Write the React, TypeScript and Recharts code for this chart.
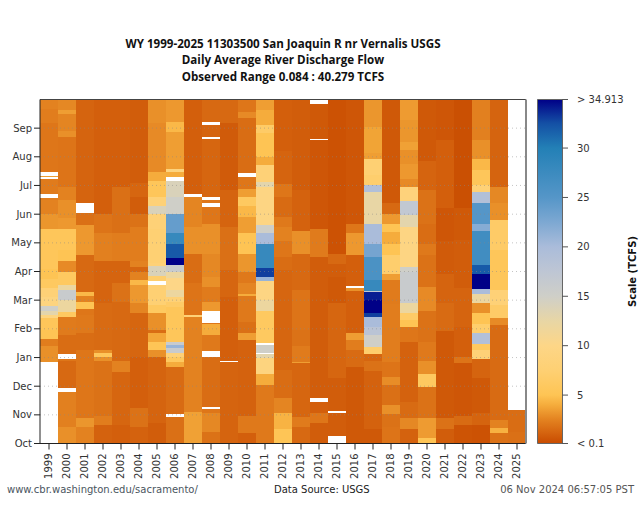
import React from 'react'
import { BarChart, Bar, Cell, XAxis, YAxis, ReferenceLine } from 'recharts'

const years = [
  1999, 2000, 2001, 2002, 2003, 2004, 2005, 2006, 2007, 2008, 2009, 2010, 2011, 2012,
  2013, 2014, 2015, 2016, 2017, 2018, 2019, 2020, 2021, 2022, 2023, 2024, 2025,
]
const months = ['Oct', 'Nov', 'Dec', 'Jan', 'Feb', 'Mar', 'Apr', 'May', 'Jun', 'Jul', 'Aug', 'Sep']
const monthDays = [0, 30.4, 60.8, 91.2, 121.7, 152.1, 182.5, 212.9, 243.3, 273.8, 304.2, 334.6]

// each band is [last day of water year, flow in TCFS], null = no record
type Band = [number, number | null]
const wy1999: Band[] = [[87,null],[103,3],[111,2.3],[120,5],[133,5.5],[136,9],[141,13],[146,15],[155,9],[165,8],[175,6],[185,5],[228,5.5],[244,3.2],[258,2.5],[260,2.3],[265,null],[281,2.2],[283,null],[284,3.5],[288,null],[310,2],[340,2],[355,2.3],[365,2.5]]
const wy2000: Band[] = [[18,3],[55,2.4],[59,null],[88,1.4],[90,2],[95,null],[115,1.6],[134,2.2],[140,6],[152,12],[163,16],[168,12],[182,6],[194,2.8],[205,5],[228,5.5],[239,3.3],[258,3],[272,2.5],[325,1.9],[332,3],[350,2.6],[354,3.5],[365,2.7]]
const wy2001: Band[] = [[18,2.5],[27,3.2],[99,2],[117,1.6],[136,2.1],[143,2],[150,5],[156,2.5],[161,4.5],[200,1.4],[232,3.3],[245,1.7],[255,null],[365,1.2]]
const wy2002: Band[] = [[20,1.1],[29,2.3],[88,1.8],[92,3],[96,5.5],[99,3],[149,1.5],[194,1.2],[223,2.4],[244,1.9],[365,1]]
const wy2003: Band[] = [[20,1],[38,1.3],[76,1.3],[88,2.5],[150,1.4],[170,1.8],[194,1.2],[223,2.3],[272,1.7],[365,1]]
const wy2004: Band[] = [[17,1.1],[38,1.8],[92,1],[138,1.3],[149,2.6],[168,3.3],[174,4.5],[182,2.5],[187,1.3],[194,2.5],[230,2.3],[244,1.8],[262,0.9],[276,1.3],[365,0.9]]
const wy2005: Band[] = [[22,0.9],[92,1.2],[99,3],[108,5.2],[117,3.8],[120,1.6],[138,3],[147,6],[168,7.5],[172,null],[178,7],[188,14],[192,8],[228,7.5],[244,8],[252,14],[262,8],[278,5.5],[288,4],[340,2.8],[365,3]]
const wy2006: Band[] = [[28,1.7],[31,null],[81,1.5],[87,4],[92,6],[96,8],[101,16],[104,21],[108,16],[145,5.5],[150,6.5],[155,8],[163,12],[176,10],[182,12],[189,16],[197,36],[212,32],[223,28],[244,24],[262,15],[278,14],[283,null],[288,4],[291,9],[330,3.5],[341,4.5],[365,3.3]]
const wy2007: Band[] = [[33,3.6],[134,2.5],[136,8],[170,1.9],[201,1.6],[230,3],[262,2.6],[265,null],[365,1]]
const wy2008: Band[] = [[12,1.8],[32,2.7],[37,2],[38.5,null],[92,1.6],[98,null],[115,2.1],[127,4],[128,2],[141,null],[150,3.3],[166,2.2],[177,3],[201,2.7],[233,3],[251,2],[255,null],[258,2],[262,null],[323,1.3],[325,null],[338,1.2],[341,null],[365,1.4]]
const wy2009: Band[] = [[87,1.2],[88,null],[155,1],[184,1.3],[230,1.7],[269,1.2],[340,0.8],[365,1.4]]
const wy2010: Band[] = [[11,1],[29,2.1],[110,1.1],[117,3.5],[129,1.7],[156,2.1],[159,4],[170,2.6],[182,2.1],[201,3.2],[223,5],[240,3.5],[252,4.5],[262,6],[270,3.5],[283,2],[287,null],[345,1.6],[352,2.8],[365,2]]
const wy2011: Band[] = [[62,2.1],[74,4],[91,9],[95,13],[96,null],[104,15],[107,null],[141,6],[152,12],[172,9.5],[177,21],[186,33],[212,28],[223,20],[232,15],[272,9.5],[277,13],[295,8],[304,4],[329,5],[338,6.5],[354,4],[365,3.5]]
const wy2012: Band[] = [[15,5.2],[32,4.3],[48,2.6],[78,1.6],[184,1.3],[198,1.6],[215,2],[230,2.5],[240,2.1],[262,1.5],[275,2],[310,1.2],[365,1]]
const wy2013: Band[] = [[18,1.4],[28,2.2],[85,1.3],[87,3.5],[103,2.2],[120,1.8],[163,1.9],[201,1.4],[226,3],[269,1.1],[365,0.9]]
const wy2014: Band[] = [[22,0.9],[32,2],[44,1],[48,null],[198,0.9],[228,2.2],[322,0.6],[323.5,null],[360,0.7],[365,null]]
const wy2015: Band[] = [[8,null],[32,0.9],[35,null],[70,0.9],[149,1.3],[177,0.7],[190,0.9],[201,1.4],[365,0.4]]
const wy2016: Band[] = [[81,0.7],[99,1.5],[110,2.3],[117,3.5],[162,1],[165,3],[167,null],[200,1],[223,3.3],[233,2],[365,0.6]]
const wy2017: Band[] = [[15,0.7],[77,1.1],[88,1.8],[95,1.3],[102,7],[115,15],[124,18],[134,20],[138,33],[152,38],[161,34],[162,17],[173,28],[198,26],[212,23],[233,20],[244,12.5],[267,12.5],[274,19],[285,7],[302,7.5],[308,3.5],[336,3.7],[365,3.2]]
const wy2018: Band[] = [[18,1.9],[31,1.8],[41,3],[62,1.7],[71,2.9],[87,1.9],[148,2.3],[173,2.2],[180,3.5],[200,7],[212,5],[224,4],[233,5],[244,3.3],[255,1.4],[365,0.7]]
const wy2019: Band[] = [[15,1.1],[27,2.7],[44,1.5],[108,1.1],[124,2],[131,5],[138,6.5],[149,12],[182,16],[187,15],[230,9.5],[242,13],[257,17],[272,8.5],[281,2.8],[297,3.3],[311,3],[320,3.6],[343,3.2],[365,3.4]]
const wy2020: Band[] = [[6,5],[27,3.4],[60,1.8],[74,6],[88,3],[108,2.1],[141,1.8],[166,2.8],[200,1.8],[212,2.1],[233,1.6],[269,1.8],[300,1.2],[365,0.7]]
const wy2021: Band[] = [[15,0.9],[27,1.8],[119,0.7],[149,1.5],[180,1.2],[215,0.8],[250,0.6],[322,1],[365,0.6]]
const wy2022: Band[] = [[20,0.5],[29,1.5],[85,0.6],[92,1.9],[124,1],[165,1.2],[216,0.9],[250,0.7],[365,0.3]]
const wy2023: Band[] = [[20,0.4],[32,1.2],[70,0.7],[90,1.2],[99,8],[106,6],[117,19],[127,7],[138,5],[149,3],[159,12],[164,20],[180,36],[189,32],[226,27],[233,22],[255,25],[267,19],[274,8],[290,5.5],[302,4.5],[322,3],[365,2.4]]
const wy2024: Band[] = [[11,1.8],[16,4.2],[25,2.5],[126,1.5],[133,2.8],[147,6.5],[163,8],[205,5.5],[237,6.5],[255,3],[272,2.7],[365,1.2]]
const wy2025: Band[] = [[12,1.7],[36,1.6]]

const allYears = [
  wy1999, wy2000, wy2001, wy2002, wy2003, wy2004, wy2005, wy2006, wy2007, wy2008, wy2009, wy2010, wy2011, wy2012,
  wy2013, wy2014, wy2015, wy2016, wy2017, wy2018, wy2019, wy2020, wy2021, wy2022, wy2023, wy2024, wy2025,
]

const scaleTicks = [0.1, 5, 10, 15, 20, 25, 30, 34.913]
const scaleLabels = ['< 0.1', '5', '10', '15', '20', '25', '30', '> 34.913']
const scaleStops: [number, number[]][] = [
  [0.1, [200, 75, 0]],
  [1.2, [213, 100, 15]],
  [2.5, [227, 130, 32]],
  [4, [245, 172, 60]],
  [5, [254, 196, 84]],
  [7.5, [254, 208, 115]],
  [10, [253, 214, 135]],
  [12.5, [232, 214, 165]],
  [15, [207, 207, 200]],
  [17.5, [190, 198, 212]],
  [20, [170, 188, 218]],
  [22.5, [125, 168, 210]],
  [25, [85, 150, 200]],
  [30, [35, 128, 182]],
  [32.5, [20, 80, 165]],
  [34.913, [0, 0, 135]],
]

const flowColor = (v: number | null) => {
  if (v === null) return '#ffffff'
  const low = scaleStops[0]
  const high = scaleStops[scaleStops.length - 1]
  if (v <= low[0]) return `rgb(${low[1].join(',')})`
  if (v >= high[0]) return `rgb(${high[1].join(',')})`
  const i = scaleStops.findIndex((s) => s[0] >= v)
  const [v0, c0] = scaleStops[i - 1]
  const [v1, c1] = scaleStops[i]
  const t = (v - v0) / (v1 - v0)
  return `rgb(${c0.map((c, k) => Math.round(c + (c1[k] - c) * t)).join(',')})`
}

// stacked heights per year, one Bar per band position
const bandCount = Math.max(...allYears.map((y) => y.length))
const bandKeys = Array.from({ length: bandCount }, (_, i) => `band${i}`)
const rows = years.map((year, i) => {
  const row: Record<string, number> = { year }
  allYears[i].forEach(([end], k) => {
    row[bandKeys[k]] = end - (k > 0 ? allYears[i][k - 1][0] : 0)
  })
  return row
})
const scaleRow = [{ name: 'scale', flow: 34.913 }]

const font = '"DejaVu Sans", sans-serif'
const tickStyle = { fontFamily: font, fontSize: 10, fill: '#333' }

export default function App() {
  return (
    <div style={PageStyle}>
      <div style={{ ...TitleStyle, top: 36 }}>WY 1999-2025 11303500 San Joaquin R nr Vernalis USGS</div>
      <div style={{ ...TitleStyle, top: 52 }}>Daily Average River Discharge Flow</div>
      <div style={{ ...TitleStyle, top: 69 }}>Observed Range 0.084 : 40.279 TCFS</div>

      <div style={{ position: 'absolute', left: 0, top: 0 }}>
        <BarChart
          width={640}
          height={530}
          data={rows}
          barCategoryGap={0}
          margin={{ top: 99.5, right: 112, bottom: 46.5, left: 0 }}
        >
          <XAxis
            dataKey="year"
            interval={0}
            height={40}
            angle={-90}
            textAnchor="end"
            dx={-4}
            dy={2}
            tick={tickStyle}
            stroke="#222"
            tickSize={6}
          />
          <YAxis
            type="number"
            domain={[0, 365]}
            ticks={monthDays}
            tickFormatter={(_: number, i: number) => months[i]}
            width={40}
            tick={tickStyle}
            stroke="#222"
            tickSize={6}
          />
          <YAxis
            yAxisId="frame"
            orientation="right"
            domain={[0, 365]}
            width={2}
            tick={false}
            tickLine={false}
            axisLine={{ stroke: '#888', strokeWidth: 2 }}
          />
          {bandKeys.map((key, k) => (
            <Bar key={key} dataKey={key} stackId="flow" isAnimationActive={false} shapeRendering="crispEdges">
              {allYears.map((bands, i) => (
                <Cell key={i} fill={bands[k] ? flowColor(bands[k][1]) : '#ffffff'} />
              ))}
            </Bar>
          ))}
          {monthDays.slice(1).map((d) => (
            <ReferenceLine key={d} y={d} stroke="#8a8a8a" strokeOpacity={0.5} strokeDasharray="1 3" />
          ))}
          <ReferenceLine y={365} stroke="#444" />
        </BarChart>
      </div>

      <div style={{ position: 'absolute', left: 537, top: 0 }}>
        <BarChart
          width={103}
          height={530}
          data={scaleRow}
          barCategoryGap={0}
          margin={{ top: 99.5, right: 0, bottom: 86.5, left: 0.5 }}
        >
          <defs>
            <linearGradient id="scaleGradient" x1="0" y1="0" x2="0" y2="1">
              {[...scaleStops].reverse().map(([v, c]) => (
                <stop key={v} offset={1 - (v - 0.1) / 34.813} stopColor={`rgb(${c.join(',')})`} />
              ))}
            </linearGradient>
          </defs>
          <XAxis dataKey="name" hide />
          <YAxis
            type="number"
            orientation="right"
            domain={[0.1, 34.913]}
            ticks={scaleTicks}
            tickFormatter={(_: number, i: number) => scaleLabels[i]}
            width={78}
            tick={{ ...tickStyle, textAnchor: 'start' }}
            stroke="#555"
            tickSize={6}
            tickMargin={9}
            axisLine={false}
            label={{
              value: 'Scale (TCFS)',
              angle: -90,
              position: 'insideRight',
              offset: 8,
              style: { fontFamily: font, fontSize: 10, fontWeight: 700, fill: '#111', textAnchor: 'middle' },
            }}
          />
          <Bar dataKey="flow" fill="url(#scaleGradient)" stroke="#666" isAnimationActive={false} />
        </BarChart>
      </div>

      <div style={{ ...FootStyle, left: 7, color: '#4a5560' }}>www.cbr.washington.edu/sacramento/</div>
      <div style={{ ...FootStyle, left: 274, color: '#222' }}>Data Source: USGS</div>
      <div style={{ ...FootStyle, right: 6, color: '#555' }}>06 Nov 2024 06:57:05 PST</div>
    </div>
  )
}

const PageStyle: React.CSSProperties = {
  position: 'absolute',
  left: 0,
  top: 0,
  width: 640,
  height: 530,
  background: '#fff',
  overflow: 'hidden',
}

const TitleStyle: React.CSSProperties = {
  position: 'absolute',
  left: 0,
  width: 566,
  textAlign: 'center',
  fontFamily: '"Open Sans", sans-serif',
  fontWeight: 700,
  fontSize: 11.6,
  lineHeight: '16px',
  color: '#111',
  whiteSpace: 'nowrap',
}

const FootStyle: React.CSSProperties = {
  position: 'absolute',
  top: 483,
  fontFamily: font,
  fontSize: 10,
  lineHeight: '14px',
  whiteSpace: 'nowrap',
}
